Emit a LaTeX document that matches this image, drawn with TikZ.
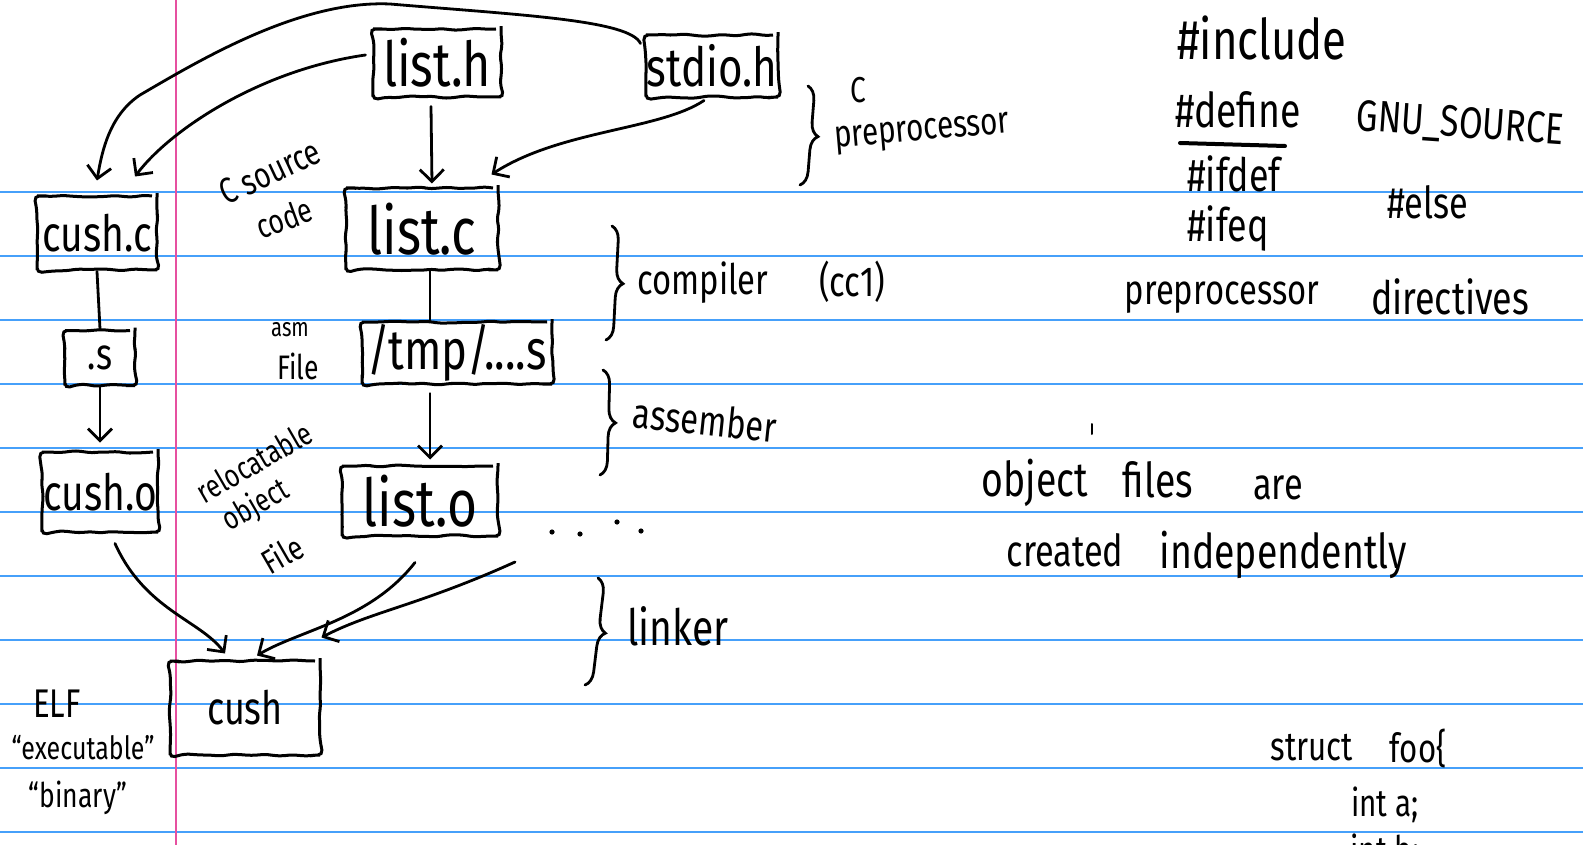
\documentclass[tikz,border=0pt]{standalone}
\usepackage{fontspec}
\newfontfamily\handfont[FakeStretch=0.78]{Fira Sans}
\newcommand\hsz[1]{\fontsize{#1}{#1}\selectfont\handfont}
\usetikzlibrary{arrows.meta,decorations.pathmorphing,decorations.pathreplacing,calc}
\definecolor{ruleblue}{RGB}{70,160,250}
\definecolor{marginpink}{RGB}{230,80,160}
\begin{document}
\begin{tikzpicture}[x=1pt,y=-1pt,
  box/.style={draw, line width=3pt, inner sep=0pt, rounded corners=5pt,
     decorate, decoration={random steps, segment length=9pt, amplitude=1.2pt}},
  conn/.style={line width=2.8pt, line cap=round},
  arr/.style={conn, -{Straight Barb[length=12pt,width=24pt]}},
  hbrace/.style={line width=2.8pt, line cap=round, decorate, decoration={brace, amplitude=14pt}},
  lbl/.style={inner sep=0pt}
]
\pgfmathsetseed{7}
\fill[white] (0,0) rectangle (1583,845);
\useasboundingbox (0,0) rectangle (1583,845);
\clip (0,0) rectangle (1583,845);
\foreach \k in {0,...,10} \draw[ruleblue, line width=1.6pt] (0,192+64*\k) -- (1583,192+64*\k);
\draw[marginpink, line width=1.6pt] (176,0) -- (176,845);

% file boxes
\node[box, minimum width=128pt, minimum height=68pt, font=\hsz{62}] (listh) at (437,63) {list.h};
\node[box, minimum width=132pt, minimum height=62pt, font=\hsz{54}] (stdioh) at (712,66) {stdio.h};
\node[box, minimum width=120pt, minimum height=74pt, font=\hsz{50}] (cushc) at (97,233) {cush.c};
\node[box, minimum width=152pt, minimum height=82pt, font=\hsz{66}] (listc) at (422,229) {list.c};
\node[box, minimum width=70pt, minimum height=55pt, font=\hsz{44}] (dots) at (100,358) {.s};
\node[box, minimum width=190pt, minimum height=62pt, font=\hsz{56}] (tmps) at (457,353) {/tmp/....s};
\node[box, minimum width=116pt, minimum height=80pt, font=\hsz{50}] (cusho) at (100,492) {cush.o};
\node[box, minimum width=156pt, minimum height=70pt, font=\hsz{66}] (listo) at (420,501) {list.o};
\node[box, minimum width=150pt, minimum height=94pt, font=\hsz{46}] (cush) at (245,708) {cush};
\coordinate (more) at (515,562);

% connectors
\draw[arr] ($(listh.west)+(-6,-8)$) .. controls (260,70) and (170,130) .. ($(cushc.north)+(38,-18)$);
\draw[arr] ($(stdioh.north west)+(-4,10)$) .. controls (630,20) and (520,15) .. (390,4)
   .. controls (300,0) and (200,60) .. (140,95) .. controls (110,115) and (102,150) .. ($(cushc.north)+(0,-14)$);
\draw[arr] ($(listh.south)+(-6,8)$) -- ($(listc.north)+(10,-3)$);
\draw[arr] ($(stdioh.south)+(-8,2)$) .. controls (660,130) and (560,130) .. ($(listc.north east)+(-8,-12)$);
\draw[conn] ($(listc.south)+(8,0)$) -- ($(tmps.north)+(-27,0)$);
\draw[conn] (cushc.south) -- (dots.north);
\draw[arr] (dots.south) -- ($(cusho.north)+(0,-8)$);
\draw[arr] ($(tmps.south)+(-27,8)$) -- ($(listo.north)+(10,-5)$);
\draw[arr] ($(cusho.south)+(15,10)$) .. controls (145,610) and (200,620) .. ($(cush.north)+(-20,-6)$);
\draw[arr] ($(listo.south)+(-5,25)$) .. controls (370,620) and (300,630) .. ($(cush.north)+(12,-4)$);
\draw[arr] (more) .. controls (420,605) and (370,612) .. ($(cush.north east)+(0,-22)$);

% dots
\foreach \p in {(552,532),(580,534),(617,522),(641,531)} \fill \p circle (2.6pt);

% braces and stage labels
\draw[hbrace] (808,86) -- (800,185);
\node[lbl, font=\hsz{36}] (lc) at (858,90) {C};
\node[lbl, font=\hsz{38}, rotate=5] (lpre) at (922,134) {preprocessor};
\draw[hbrace] (612,226) -- (606,340);
\node[lbl, font=\hsz{42}] (lcomp) at (703,283) {compiler};
\node[lbl, font=\hsz{42}] (lcc) at (852,282) {(cc1)};
\draw[hbrace] (603,370) -- (600,475);
\node[lbl, font=\hsz{42}, rotate=-6] (lasm) at (705,420) {assember};
\draw[hbrace] (598,578) -- (585,685);
\node[lbl, font=\hsz{50}] (llink) at (678,626) {linker};

% side labels
\node[lbl, font=\hsz{36}, rotate=25] (src1) at (270,172) {C source};
\node[lbl, font=\hsz{34}, rotate=20] (src2) at (284,218) {code};
\node[lbl, font=\hsz{26}] (asm1) at (290,330) {asm};
\node[lbl, font=\hsz{34}] (asm2) at (298,366) {File};
\node[lbl, font=\hsz{32}, rotate=30] (rel1) at (254,462) {relocatable};
\node[lbl, font=\hsz{32}, rotate=30] (rel2) at (256,506) {object};
\node[lbl, font=\hsz{34}, rotate=30] (rel3) at (282,554) {File};
\node[lbl, font=\hsz{40}] (elf1) at (57,704) {ELF};
\node[lbl, font=\hsz{32}] (elf2) at (83,748) {“executable”};
\node[lbl, font=\hsz{34}] (elf3) at (78,798) {“binary”};

% right-hand notes
\node[lbl, font=\hsz{56}] (n1) at (1262,38) {\#include};
\node[lbl, font=\hsz{48}] (n2) at (1238,110) {\#define};
\draw[line width=4pt, line cap=round] (1180,143) -- (1285,146);
\node[lbl, font=\hsz{44}, rotate=-4] (n3) at (1460,125) {GNU\_SOURCE};
\node[lbl, font=\hsz{46}] (n4) at (1234,174) {\#ifdef};
\node[lbl, font=\hsz{46}] (n5) at (1228,228) {\#ifeq};
\node[lbl, font=\hsz{44}] (n6) at (1428,202) {\#else};
\node[lbl, font=\hsz{42}] (n7) at (1222,298) {preprocessor};
\node[lbl, font=\hsz{46}] (n8) at (1450,297) {directives};
\draw[line width=2pt, line cap=round] (1092,424) -- (1092,434);
\node[lbl, font=\hsz{48}] (o1) at (1035,483) {object};
\node[lbl, font=\hsz{48}] (o2) at (1158,480) {files};
\node[lbl, font=\hsz{44}] (o3) at (1278,488) {are};
\node[lbl, font=\hsz{44}] (o4) at (1065,550) {created};
\node[lbl, font=\hsz{48}] (o5) at (1283,555) {independently};
\node[lbl, font=\hsz{40}] (s1) at (1312,748) {struct};
\node[lbl, font=\hsz{40}] (s2) at (1418,748) {foo\{};
\node[lbl, font=\hsz{38}] (s3) at (1385,805) {int a;};
\node[lbl, font=\hsz{38}] (s4) at (1385,852) {int b;};
\end{tikzpicture}
\end{document}
